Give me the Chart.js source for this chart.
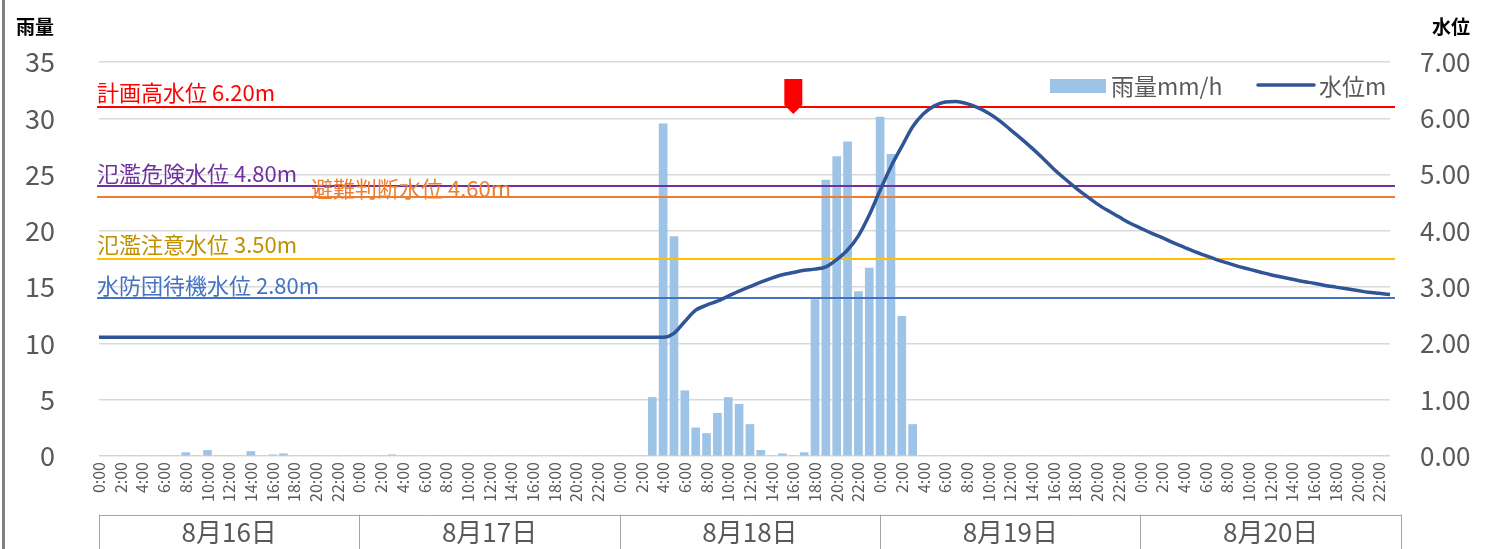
<!DOCTYPE html>
<html>
<head>
<meta charset="utf-8">
<script src="https://cdn.jsdelivr.net/npm/chart.js@4"></script>
<style>
html, body { margin: 0; padding: 0; background: #fff; }
</style>
</head>
<body>
<canvas id="rainChart" width="1487" height="549"></canvas>
<script>
// tick labels
const days = ['8月16日', '8月17日', '8月18日', '8月19日', '8月20日'];
const hours = ['0:00', '1:00', '2:00', '3:00', '4:00', '5:00', '6:00', '7:00', '8:00', '9:00', '10:00', '11:00',
    '12:00', '13:00', '14:00', '15:00', '16:00', '17:00', '18:00', '19:00', '20:00', '21:00', '22:00', '23:00'];

// rainfall mm/h, one array per day
const rain16 = [0, 0, 0, 0, 0, 0, 0, 0, 0.3, 0, 0.5, 0, 0, 0, 0.4, 0, 0.1, 0.2, 0, 0, 0, 0, 0, 0];
const rain17 = [0, 0, 0, 0.1, 0, 0, 0, 0, 0, 0, 0, 0, 0, 0, 0, 0, 0, 0, 0, 0, 0, 0, 0, 0];
const rain18 = [0, 0, 0, 5.2, 29.5, 19.5, 5.8, 2.5, 2.0, 3.8, 5.2, 4.6, 2.8, 0.5, 0, 0.2, 0, 0.3, 13.9, 24.5, 26.6, 27.9, 14.6, 16.7];
const rain19 = [30.1, 26.8, 12.4, 2.8, 0, 0, 0, 0, 0, 0, 0, 0, 0, 0, 0, 0, 0, 0, 0, 0, 0, 0, 0, 0];
const rain20 = [0, 0, 0, 0, 0, 0, 0, 0, 0, 0, 0, 0, 0, 0, 0, 0, 0, 0, 0, 0, 0, 0, 0, 0];

// water level m, one array per day
const level16 = [2.11, 2.11, 2.11, 2.11, 2.11, 2.11, 2.11, 2.11, 2.11, 2.11, 2.11, 2.11, 2.11, 2.11, 2.11, 2.11, 2.11, 2.11, 2.11, 2.11, 2.11, 2.11, 2.11, 2.11];
const level17 = [2.11, 2.11, 2.11, 2.11, 2.11, 2.11, 2.11, 2.11, 2.11, 2.11, 2.11, 2.11, 2.11, 2.11, 2.11, 2.11, 2.11, 2.11, 2.11, 2.11, 2.11, 2.11, 2.11, 2.11];
const level18 = [2.11, 2.11, 2.11, 2.11, 2.11, 2.18, 2.39, 2.59, 2.68, 2.75, 2.84, 2.93, 3.01, 3.09, 3.16, 3.22, 3.26, 3.30, 3.32, 3.36, 3.49, 3.66, 3.91, 4.28];
const level19 = [4.72, 5.14, 5.50, 5.85, 6.08, 6.22, 6.29, 6.30, 6.26, 6.19, 6.09, 5.96, 5.80, 5.64, 5.47, 5.29, 5.10, 4.93, 4.77, 4.62, 4.48, 4.36, 4.25, 4.14];
const level20 = [4.05, 3.96, 3.88, 3.79, 3.71, 3.63, 3.56, 3.49, 3.43, 3.37, 3.32, 3.27, 3.22, 3.18, 3.14, 3.10, 3.07, 3.03, 3.00, 2.97, 2.94, 2.91, 2.89, 2.87];

// warning levels
const warnNames = ['計画高水位', '氾濫危険水位', '避難判断水位', '氾濫注意水位', '水防団待機水位'];
const warnLevels = [6.20, 4.80, 4.60, 3.50, 2.80];

// marker position (8/18 16:00)
const markerDay = 2;
const markerHour = 16;

const categories = [];
days.forEach(d => hours.forEach(h => categories.push(d + ' ' + h)));
const rain = [].concat(rain16, rain17, rain18, rain19, rain20);
const level = [].concat(level16, level17, level18, level19, level20);

const FONT = "'Noto Sans CJK JP', 'Noto Sans', sans-serif";
const GREY = '#595959';
const warnColors = ['#FF0000', '#7030A0', '#ED7D31', '#FFC000', '#4472C4'];
const warnTextColors = ['#FF0000', '#7030A0', '#ED7D31', '#BF9000', '#4472C4'];
const warnTextX = [97, 97, 311, 97, 97];
const warnTextDy = [-3, -1, 3, -3, -1];

Chart.defaults.font.family = FONT;
Chart.defaults.color = GREY;

const overlay = {
    id: 'overlay',
    afterDatasetDraw(chart, args) {
        if (args.index !== 1) return;
        const ctx = chart.ctx;
        const area = chart.chartArea;
        const yr = chart.scales.yLevel;
        ctx.save();
        ctx.font = '22px ' + FONT;
        ctx.textBaseline = 'bottom';
        warnLevels.forEach((v, i) => {
            const y = Math.round(yr.getPixelForValue(v));
            ctx.strokeStyle = warnColors[i];
            ctx.lineWidth = 2;
            ctx.beginPath();
            ctx.moveTo(area.left - 2, y);
            ctx.lineTo(area.right + 5, y);
            ctx.stroke();
        });
        warnLevels.forEach((v, i) => {
            const y = Math.round(yr.getPixelForValue(v));
            ctx.fillStyle = warnTextColors[i];
            ctx.fillText(warnNames[i] + ' ' + v.toFixed(2) + 'm', warnTextX[i], y + warnTextDy[i]);
        });
        ctx.restore();
    },
    afterDraw(chart) {
        const ctx = chart.ctx;
        const xs = chart.scales.x;
        ctx.save();

        // frame edge
        ctx.fillStyle = '#7F7F7F';
        ctx.fillRect(2, 0, 3, chart.height);

        // axis titles
        ctx.fillStyle = '#000';
        ctx.font = 'bold 19px ' + FONT;
        ctx.textBaseline = 'middle';
        ctx.textAlign = 'left';
        ctx.fillText('雨量', 16, 27);
        ctx.fillText('水位', 1432, 27);

        // marker
        const mx = xs.getPixelForValue(markerDay * 24 + markerHour);
        ctx.fillStyle = '#FF0000';
        ctx.beginPath();
        ctx.moveTo(mx - 9, 79);
        ctx.lineTo(mx + 9, 79);
        ctx.lineTo(mx + 9, 105);
        ctx.lineTo(mx, 114);
        ctx.lineTo(mx - 9, 105);
        ctx.closePath();
        ctx.fill();

        // legend
        ctx.fillStyle = '#9DC3E6';
        ctx.fillRect(1050, 79, 56, 14);
        ctx.strokeStyle = '#2F5597';
        ctx.lineWidth = 3.5;
        ctx.lineCap = 'round';
        ctx.beginPath();
        ctx.moveTo(1258, 85);
        ctx.lineTo(1314, 85);
        ctx.stroke();
        ctx.fillStyle = GREY;
        ctx.font = '23px ' + FONT;
        ctx.textBaseline = 'middle';
        ctx.fillText('雨量mm/h', 1111, 86);
        ctx.fillText('水位m', 1319, 86);

        // day group boxes
        const boxTop = 515;
        ctx.strokeStyle = '#A6A6A6';
        ctx.lineWidth = 1;
        ctx.beginPath();
        const x0 = Math.round(xs.getPixelForValue(0)) + 0.5;
        const x1 = Math.round(xs.getPixelForValue(days.length * 24)) + 0.5;
        ctx.moveTo(x0, boxTop + 0.5);
        ctx.lineTo(x1, boxTop + 0.5);
        for (let d = 0; d <= days.length; d++) {
            const x = Math.round(xs.getPixelForValue(d * 24)) + 0.5;
            ctx.moveTo(x, boxTop);
            ctx.lineTo(x, chart.height);
        }
        ctx.stroke();
        ctx.fillStyle = GREY;
        ctx.font = '26px ' + FONT;
        ctx.textAlign = 'center';
        days.forEach((d, i) => {
            const xa = xs.getPixelForValue(i * 24);
            const xb = xs.getPixelForValue(i * 24 + 24);
            ctx.fillText(d, (xa + xb) / 2, 532);
        });
        ctx.restore();
    }
};

const ctx = document.getElementById('rainChart').getContext('2d');
const rainChart = new Chart(ctx, {
    type: 'bar',
    data: {
        labels: categories,
        datasets: [{
            type: 'line',
            label: '水位m',
            data: level,
            yAxisID: 'yLevel',
            borderColor: '#2F5597',
            borderWidth: 3.5,
            pointRadius: 0,
            tension: 0.4,
            cubicInterpolationMode: 'monotone',
            order: 0
        }, {
            type: 'bar',
            label: '雨量mm/h',
            data: rain,
            yAxisID: 'yRain',
            backgroundColor: '#9DC3E6',
            barThickness: 8,
            order: 1
        }]
    },
    options: {
        responsive: false,
        animation: false,
        layout: { padding: { top: 62, left: 0, right: 0, bottom: 0 } },
        plugins: {
            legend: { display: false },
            tooltip: { enabled: false }
        },
        scales: {
            x: {
                offset: false,
                grid: { display: false, drawTicks: false },
                border: { display: false },
                ticks: {
                    autoSkip: false,
                    minRotation: 90,
                    maxRotation: 90,
                    padding: 6,
                    color: GREY,
                    font: { size: 16 },
                    callback: (v, i) => i % 2 === 0 ? hours[i % 24] : ''
                },
                afterFit: s => { s.height = 93; }
            },
            yRain: {
                position: 'left',
                min: 0,
                max: 35,
                ticks: { stepSize: 5, padding: 44, color: GREY, font: { size: 27 } },
                grid: { color: '#D9D9D9', lineWidth: 1.5, drawTicks: false },
                border: { display: false },
                afterFit: s => { s.width = 99; }
            },
            yLevel: {
                position: 'right',
                min: 0,
                max: 7,
                ticks: { stepSize: 1, padding: 30, color: GREY, font: { size: 26 }, callback: v => v.toFixed(2) },
                grid: { drawOnChartArea: false, drawTicks: false },
                border: { display: false },
                afterFit: s => { s.width = 97; }
            }
        }
    },
    plugins: [overlay]
});
</script>
</body>
</html>
